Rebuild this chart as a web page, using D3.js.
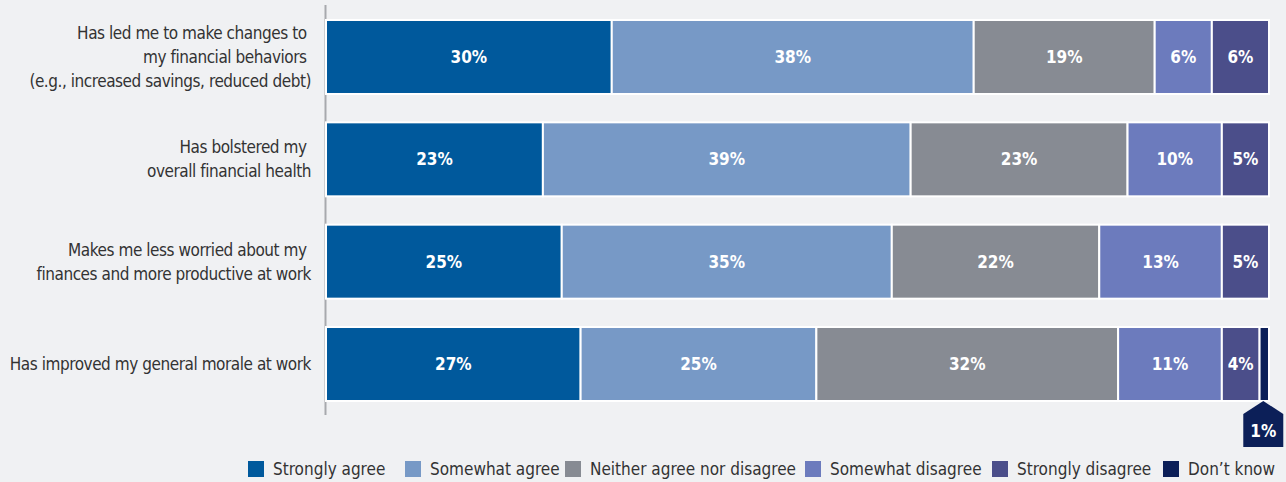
<!DOCTYPE html>
<html>
<head>
<meta charset="utf-8">
<script src="https://cdn.jsdelivr.net/npm/d3@7"></script>
<style>
  html, body { margin: 0; padding: 0; background: #f0f1f3; }
  svg { display: block; font-family: "DejaVu Sans", sans-serif; font-stretch: condensed; }
</style>
</head>
<body>
<svg id="chart" width="1286" height="482"></svg>
<script>
// Survey statements (one bar each)
const statements = [
  ["Has led me to make changes to\u00A0", "my financial behaviors\u00A0", "(e.g., increased savings, reduced debt)"],
  ["Has bolstered my\u00A0", "overall financial health"],
  ["Makes me less worried about my\u00A0", "finances and more productive at work"],
  ["Has improved my general morale at work"]
];
const responses = ["Strongly agree", "Somewhat agree", "Neither agree nor disagree", "Somewhat disagree", "Strongly disagree", "Don\u2019t know"];
const stronglyAgree    = [30, 23, 25, 27];
const somewhatAgree    = [38, 39, 35, 25];
const neither          = [19, 23, 22, 32];
const somewhatDisagree = [6, 10, 13, 11];
const stronglyDisagree = [6, 5, 5, 4];
const dontKnow         = [0, 0, 0, 1];
const colors = ["#00599c", "#7799c6", "#878b93", "#6c7bbd", "#4b4e8a", "#0c1f58"];

const seriesValues = [stronglyAgree, somewhatAgree, neither, somewhatDisagree, stronglyDisagree, dontKnow];
const rows = statements.map((s, i) => {
  const r = { id: i };
  responses.forEach((k, j) => { r[k] = seriesValues[j][i]; });
  return r;
});

const svg = d3.select("#chart");
const x = d3.scaleLinear().domain([0, 1]).range([326, 1269]);
const y = d3.scaleBand().domain(d3.range(statements.length)).range([20, 401]).paddingInner(0.277).paddingOuter(0);
const color = d3.scaleOrdinal().domain(responses).range(colors);

const stacked = d3.stack().keys(responses).offset(d3.stackOffsetExpand)(rows);

// vertical baseline
svg.append("line")
  .attr("x1", x(0) - 0.5).attr("x2", x(0) - 0.5)
  .attr("y1", 5).attr("y2", 415)
  .attr("stroke", "#a7a9ad").attr("stroke-width", 2);

const layers = svg.append("g").selectAll("g").data(stacked).join("g")
  .attr("fill", d => color(d.key));

layers.selectAll("rect").data(d => d.filter(p => p.data[d.key] > 0)).join("rect")
  .attr("x", p => x(p[0]))
  .attr("y", p => y(p.data.id))
  .attr("width", p => x(p[1]) - x(p[0]))
  .attr("height", y.bandwidth())
  .attr("stroke", "#ffffff").attr("stroke-width", 2);

// value labels inside segments (1% is called out below the bar)
const labelLayer = svg.append("g").attr("fill", "#ffffff").attr("font-size", 17).attr("font-weight", "bold")
  .attr("text-anchor", "middle");
stacked.forEach(layer => {
  layer.forEach(p => {
    const v = p.data[layer.key];
    if (v <= 1) return;
    labelLayer.append("text")
      .attr("x", (x(p[0]) + x(p[1])) / 2)
      .attr("y", y(p.data.id) + y.bandwidth() / 2)
      .attr("dy", "0.36em")
      .text(v + "%");
  });
});

// callout for the small "Don't know" segment
stacked[5].forEach(p => {
  const v = p.data[stacked[5].key];
  if (v !== 1) return;
  const cx = (x(p[0]) + x(p[1])) / 2 - 1;
  const top = y(p.data.id) + y.bandwidth();
  const path = d3.path();
  path.moveTo(cx, top);
  path.lineTo(cx + 20, top + 13);
  path.lineTo(cx + 20, top + 46);
  path.lineTo(cx - 20, top + 46);
  path.lineTo(cx - 20, top + 13);
  path.closePath();
  svg.append("path").attr("d", path.toString()).attr("fill", color(stacked[5].key));
  svg.append("text").attr("x", cx).attr("y", top + 30).attr("dy", "0.36em")
    .attr("text-anchor", "middle").attr("fill", "#fff").attr("font-size", 17).attr("font-weight", "bold")
    .text(v + "%");
});

// category labels
const catG = svg.append("g").attr("font-size", 17).attr("letter-spacing", "-0.45px")
  .attr("fill", "#333333").attr("text-anchor", "end");
statements.forEach((lines, i) => {
  const cy = y(i) + y.bandwidth() / 2;
  const lh = 24;
  const t = catG.append("text").attr("x", 311).attr("y", cy - (lines.length - 1) * lh / 2);
  lines.forEach((ln, k) => {
    t.append("tspan").attr("x", 311).attr("dy", k === 0 ? "0.35em" : lh).text(ln);
  });
});

// legend
const legendX = [248, 405, 565, 805, 992, 1163];
const legend = svg.append("g").attr("font-size", 17).attr("fill", "#333333");
responses.forEach((r, i) => {
  const g = legend.append("g").attr("transform", `translate(${legendX[i]},461)`);
  g.append("rect").attr("width", 16).attr("height", 16).attr("fill", color(r));
  g.append("text").attr("x", 25).attr("y", 8).attr("dy", "0.36em").text(r);
});
</script>
</body>
</html>
